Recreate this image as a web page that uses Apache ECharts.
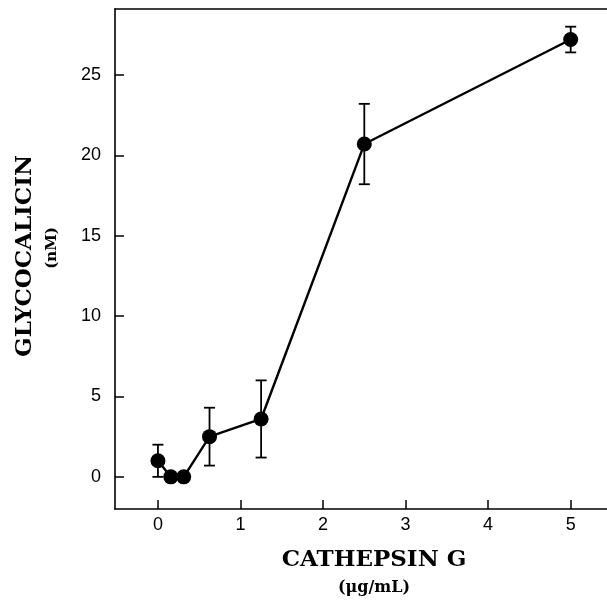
<!DOCTYPE html>
<html>
<head>
<meta charset="utf-8">
<script src="https://cdn.jsdelivr.net/npm/echarts@6/dist/echarts.min.js"></script>
<style>html,body{margin:0;padding:0;background:#fff}#c{width:607px;height:600px}</style>
</head>
<body>
<div id="c"></div>
<script>
const xValues = [0, 0.156, 0.3125, 0.625, 1.25, 2.5, 5];
const yValues = [1.0, 0, 0, 2.5, 3.6, 20.7, 27.2];
const yErrors = [1.0, 0, 0, 1.8, 2.4, 2.5, 0.8];
const xTicks = [0, 1, 2, 3, 4, 5];
const yTicks = [0, 5, 10, 15, 20, 25];
const xTitle = 'CATHEPSIN G';
const xUnit = '(\u03BCg/mL)';
const yTitle = 'GLYCOCALICIN';
const yUnit = '(nM)';

const chart = echarts.init(document.getElementById('c'), null, {renderer: 'canvas'});
const points = xValues.map((x, i) => [x, yValues[i], yErrors[i]]);
const serif = '"DejaVu Serif", "Liberation Serif", serif';
const sans = '"Liberation Sans", Arial, sans-serif';
const axisLineStyle = {color: '#000', width: 1.6};

chart.setOption({
  animation: false,
  backgroundColor: '#fff',
  grid: {left: 115, top: 9, right: 0, height: 500, show: false},
  xAxis: [
    {
      type: 'value', min: -0.52, max: 5.44,
      splitLine: {show: false},
      axisLine: {show: true, onZero: false, lineStyle: axisLineStyle},
      axisTick: {show: true, inside: true, length: 9, customValues: xTicks, lineStyle: {color: '#000', width: 1.5}},
      axisLabel: {customValues: xTicks, color: '#000', fontFamily: sans, fontSize: 18, margin: 7}
    },
    {
      type: 'value', position: 'top', min: -0.52, max: 5.44,
      splitLine: {show: false},
      axisLine: {show: true, onZero: false, lineStyle: axisLineStyle},
      axisTick: {show: false}, axisLabel: {show: false}
    }
  ],
  yAxis: {
    type: 'value', min: -2, max: 29.1,
    splitLine: {show: false},
    axisLine: {show: true, onZero: false, lineStyle: axisLineStyle},
    axisTick: {show: true, inside: true, length: 9, customValues: yTicks, lineStyle: {color: '#000', width: 1.5}},
    axisLabel: {customValues: yTicks, color: '#000', fontFamily: sans, fontSize: 18, margin: 14}
  },
  series: [
    {
      type: 'line',
      xAxisIndex: 0,
      data: points.map(p => [p[0], p[1]]),
      symbol: 'circle', symbolSize: 15,
      itemStyle: {color: '#000'},
      lineStyle: {color: '#000', width: 2.4},
      z: 3
    },
    {
      type: 'custom',
      xAxisIndex: 0,
      data: points,
      encode: {x: 0, y: 1},
      z: 4,
      renderItem: function (params, api) {
        const x = api.value(0), y = api.value(1), e = api.value(2);
        if (!e) return null;
        const t = api.coord([x, y + e]);
        const b = api.coord([x, y - e]);
        const w = 5.5;
        const st = {stroke: '#000', lineWidth: 1.8};
        return {
          type: 'group',
          children: [
            {type: 'line', shape: {x1: t[0], y1: t[1], x2: b[0], y2: b[1]}, style: st},
            {type: 'line', shape: {x1: t[0] - w, y1: t[1], x2: t[0] + w, y2: t[1]}, style: st},
            {type: 'line', shape: {x1: b[0] - w, y1: b[1], x2: b[0] + w, y2: b[1]}, style: st}
          ]
        };
      }
    }
  ],
  graphic: [
    {type: 'text', x: 374, y: 560, style: {text: xTitle, font: 'bold 23px ' + serif, fill: '#000', align: 'center', verticalAlign: 'middle'}},
    {type: 'text', x: 374, y: 588, style: {text: xUnit, font: 'bold 16px ' + serif, fill: '#000', align: 'center', verticalAlign: 'middle'}},
    {type: 'text', x: 25, y: 256, rotation: Math.PI / 2, style: {text: yTitle, font: 'bold 23px ' + serif, fill: '#000', align: 'center', verticalAlign: 'middle'}},
    {type: 'text', x: 52, y: 248, rotation: Math.PI / 2, style: {text: yUnit, font: 'bold 15px ' + serif, fill: '#000', align: 'center', verticalAlign: 'middle'}}
  ]
});
</script>
</body>
</html>
